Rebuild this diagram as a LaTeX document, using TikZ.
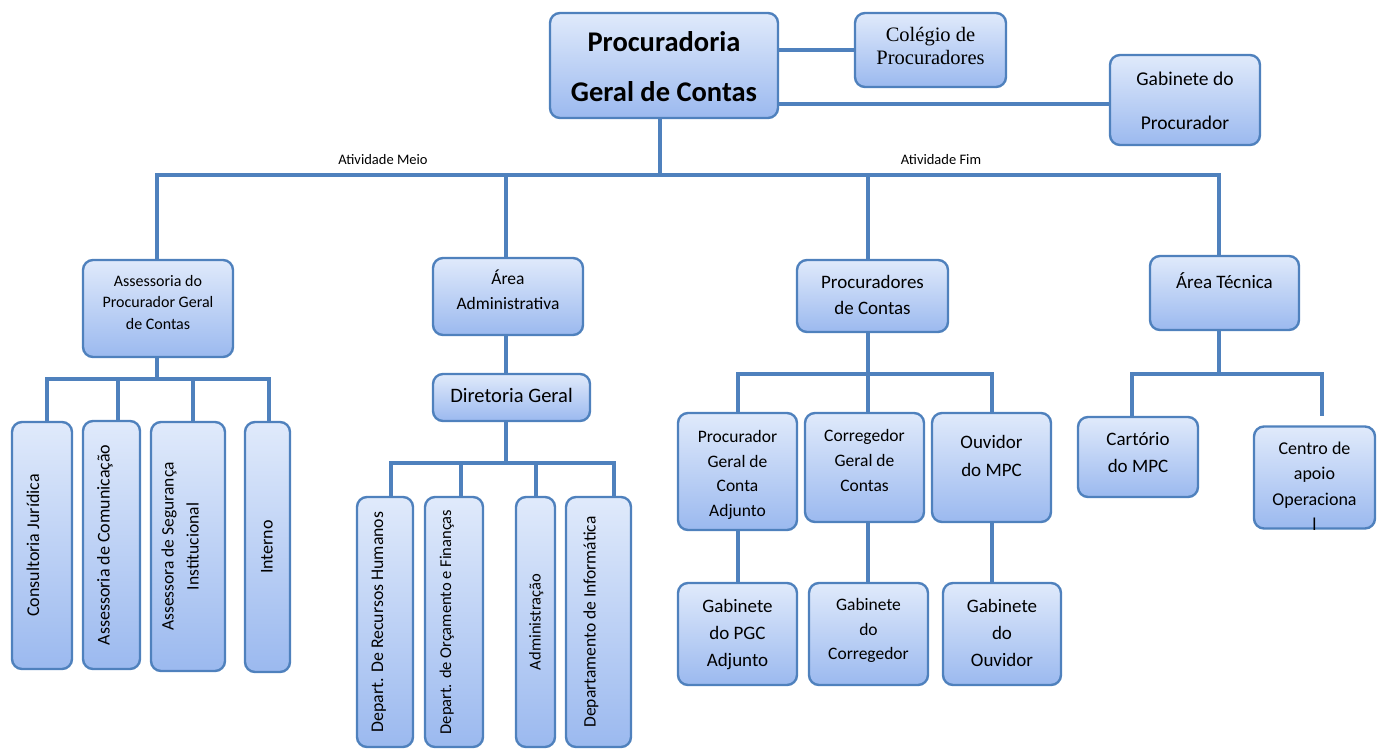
\documentclass[tikz,border=0pt]{standalone}
\usepackage{fontspec}
\setmainfont{Carlito}
\newfontfamily\colfont{Liberation Serif}
\usetikzlibrary{backgrounds}
\definecolor{bordc}{HTML}{4F81BD}
\definecolor{boxtop}{HTML}{E0EAFB}
\definecolor{boxbot}{HTML}{9BB9EF}
\newcommand{\boxtxt}[2][0pt]{\raisebox{#1}[\height][\depth]{\begin{tabular}{@{}c@{}}#2\end{tabular}}}
\begin{document}
\begin{tikzpicture}[x=1pt,y=-1pt,
  orgbox/.style={draw=bordc, line width=2.4pt, rounded corners=10pt, top color=boxtop, bottom color=boxbot, inner sep=0pt},
  vbox/.style={orgbox, rotate=90},
  sz/.style 2 args={font=\fontsize{#1}{#2}\selectfont},
  link/.style={draw=bordc, line width=3.3pt, line cap=rect},
  lbl/.style={font=\fontsize{14.5}{16}\selectfont, inner sep=1pt}]
\useasboundingbox (0,0) rectangle (1385,749);

% top level
\node[orgbox, minimum width=228pt, minimum height=105pt, font=\fontsize{28.5}{50}\selectfont\bfseries] (pgc) at (664,65.5) {\boxtxt[-1.5pt]{Procuradoria\\Geral de Contas}};
\node[orgbox, minimum width=151pt, minimum height=74pt, font=\colfont\fontsize{20.5}{23}\selectfont] (col) at (930.5,50) {\boxtxt[1.5pt]{Colégio de\\Procuradores}};
\node[orgbox, minimum width=150pt, minimum height=90pt, sz={19.5}{44}] (gab) at (1185,100) {\boxtxt[1pt]{Gabinete do\\Procurador}};

\node[lbl] (lbm) at (383,160) {Atividade Meio};
\node[lbl] (lbf) at (941,160) {Atividade Fim};

% second level
\node[orgbox, minimum width=150pt, minimum height=97pt, sz={16}{21.5}] (ass) at (158,308.5) {\boxtxt[5pt]{Assessoria do\\Procurador Geral\\de Contas}};
\node[orgbox, minimum width=150pt, minimum height=77pt, sz={17.5}{25}] (adm) at (508,296.5) {\boxtxt[5pt]{Área\\Administrativa}};
\node[orgbox, minimum width=151pt, minimum height=72pt, sz={19}{26}] (proc) at (872.5,296) {\boxtxt{Procuradores\\de Contas}};
\node[orgbox, minimum width=149pt, minimum height=74pt, sz={19}{26}] (tec) at (1224.5,293) {\boxtxt[10pt]{Área Técnica}};

% assessoria children
\node[vbox, minimum width=247pt, minimum height=60pt, sz={18}{25}] (c1) at (42,545.5) {\boxtxt[8pt]{Consultoria Jurídica}};
\node[vbox, minimum width=248pt, minimum height=57pt, sz={18}{25}] (c2) at (111.5,545) {\boxtxt[7pt]{Assessoria de Comunicação}};
\node[vbox, minimum width=249pt, minimum height=74pt, sz={17.5}{25}] (c3) at (188,546.5) {\boxtxt[7pt]{Assessora de Segurança\\Institucional}};
\node[vbox, minimum width=250pt, minimum height=45pt, sz={18}{25}] (c4) at (267.5,547) {\boxtxt{Interno}};

% administrativa children
\node[orgbox, minimum width=157pt, minimum height=47pt, sz={20.5}{25}] (dg) at (511.5,397.5) {\boxtxt{Diretoria Geral}};
\node[vbox, minimum width=250pt, minimum height=56pt, sz={17.8}{25}] (d1) at (385,622) {\boxtxt[7pt]{Depart. De Recursos Humanos}};
\node[vbox, minimum width=250pt, minimum height=58pt, sz={16.5}{25}] (d2) at (454,622) {\boxtxt[8pt]{Depart. de Orçamento e Finanças}};
\node[vbox, minimum width=250pt, minimum height=39pt, sz={16.5}{25}] (d3) at (535.5,622) {\boxtxt{Administração}};
\node[vbox, minimum width=250pt, minimum height=65pt, sz={17.5}{25}] (d4) at (598.5,622) {\boxtxt[8pt]{Departamento de Informática}};

% procuradores children
\node[orgbox, minimum width=119pt, minimum height=117pt, sz={17.5}{24.7}] (p1) at (737.5,471.5) {\boxtxt[-3pt]{Procurador\\Geral de\\Conta\\Adjunto}};
\node[orgbox, minimum width=119pt, minimum height=109pt, sz={17.5}{25}] (p2) at (864.5,467.5) {\boxtxt[6.5pt]{Corregedor\\Geral de\\Contas}};
\node[orgbox, minimum width=119pt, minimum height=109pt, sz={19}{28}] (p3) at (991.5,467.5) {\boxtxt[10.5pt]{Ouvidor\\do MPC}};
\node[orgbox, minimum width=119pt, minimum height=102pt, sz={19}{27}] (g1) at (737.5,634) {\boxtxt{Gabinete\\do PGC\\Adjunto}};
\node[orgbox, minimum width=119pt, minimum height=102pt, sz={17.5}{24.5}] (g2) at (868.5,634) {\boxtxt[3.5pt]{Gabinete\\do\\Corregedor}};
\node[orgbox, minimum width=118pt, minimum height=102pt, sz={19}{27}] (g3) at (1002,634) {\boxtxt{Gabinete\\do\\Ouvidor}};

% tecnica children
\node[orgbox, minimum width=120pt, minimum height=80pt, sz={19}{27}] (t1) at (1138,457) {\boxtxt[3.5pt]{Cartório\\do MPC}};
\node[orgbox, minimum width=121pt, minimum height=101pt, sz={18}{25.5}] (t2) at (1314.5,477.5) {\boxtxt[-10pt]{Centro de\\apoio\\Operaciona\\l}};

% junction coordinates
\coordinate (bm) at (660,175);
\coordinate (j1) at (157,175);
\coordinate (j2) at (506,175);
\coordinate (j3) at (868,175);
\coordinate (j4) at (1219,175);
\coordinate (aj) at (157,379);
\coordinate (a1) at (47,379);
\coordinate (a2) at (118,379);
\coordinate (a3) at (193,379);
\coordinate (a4) at (269,379);
\coordinate (dj) at (506,463);
\coordinate (b1) at (391,463);
\coordinate (b2) at (461,463);
\coordinate (b3) at (536,463);
\coordinate (b4) at (614,463);
\coordinate (pj) at (868,374);
\coordinate (q1) at (738,374);
\coordinate (q3) at (992,374);
\coordinate (tj) at (1219,374);
\coordinate (r1) at (1132,374);
\coordinate (r2) at (1322,374);
\coordinate (r2end) at (1322,414);
\coordinate (gy) at (0,104);

\begin{pgfonlayer}{background}
\draw[link] (pgc.east |- col.west) -- (col.west);
\draw[link] (pgc.east |- gy) -- (gab.west |- gy);
\draw[link] (pgc.south -| bm) -- (bm);
\draw[link] (j1 |- ass.north) -- (j1) -- (j4) -- (j4 |- tec.north);
\draw[link] (j2) -- (j2 |- adm.north);
\draw[link] (j3) -- (j3 |- proc.north);
% assessoria
\draw[link] (ass.south -| aj) -- (aj);
\draw[link] (a1 |- c1.east) -- (a1) -- (a4) -- (a4 |- c4.east);
\draw[link] (a2) -- (a2 |- c2.east);
\draw[link] (a3) -- (a3 |- c3.east);
% administrativa
\draw[link] (adm.south -| j2) -- (dg.north -| j2);
\draw[link] (dg.south -| dj) -- (dj);
\draw[link] (b1 |- d1.east) -- (b1) -- (b4) -- (b4 |- d4.east);
\draw[link] (b2) -- (b2 |- d2.east);
\draw[link] (b3) -- (b3 |- d3.east);
% procuradores
\draw[link] (proc.south -| pj) -- (pj);
\draw[link] (q1 |- p1.north) -- (q1) -- (q3) -- (q3 |- p3.north);
\draw[link] (pj) -- (pj |- p2.north);
\draw[link] (p1.south -| q1) -- (q1 |- g1.north);
\draw[link] (p2.south -| pj) -- (pj |- g2.north);
\draw[link] (p3.south -| q3) -- (q3 |- g3.north);
% tecnica
\draw[link] (tec.south -| tj) -- (tj);
\draw[link] (r1 |- t1.north) -- (r1) -- (r2) -- (r2end);
\end{pgfonlayer}
\end{tikzpicture}
\end{document}
